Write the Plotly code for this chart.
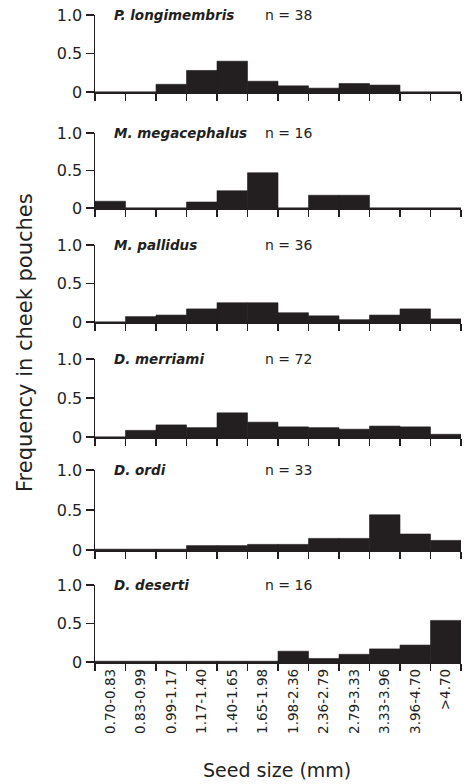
import plotly.graph_objects as go

W, H = 466, 784

bins = ["0.70-0.83", "0.83-0.99", "0.99-1.17", "1.17-1.40", "1.40-1.65", "1.65-1.98",
        "1.98-2.36", "2.36-2.79", "2.79-3.33", "3.33-3.96", "3.96-4.70", ">4.70"]

species = ["P. longimembris", "M. megacephalus", "M. pallidus", "D. merriami", "D. ordi", "D. deserti"]
n_values = [38, 16, 36, 72, 33, 16]

longimembris = [0, 0, 0.10, 0.28, 0.40, 0.14, 0.08, 0.05, 0.11, 0.09, 0, 0]
megacephalus = [0.09, 0, 0, 0.08, 0.23, 0.47, 0, 0.17, 0.17, 0, 0, 0]
pallidus = [0, 0.07, 0.09, 0.17, 0.25, 0.25, 0.12, 0.08, 0.03, 0.09, 0.17, 0.04]
merriami = [0, 0.085, 0.155, 0.12, 0.31, 0.19, 0.13, 0.12, 0.10, 0.14, 0.13, 0.035]
ordi = [0.01, 0.01, 0.01, 0.055, 0.055, 0.07, 0.07, 0.145, 0.145, 0.44, 0.20, 0.12]
deserti = [0.01, 0.01, 0.01, 0.01, 0.01, 0.01, 0.14, 0.045, 0.10, 0.17, 0.22, 0.54]

series = [longimembris, megacephalus, pallidus, merriami, ordi, deserti]

yticks = [0, 0.5, 1.0]
ytick_text = ["0", "0.5", "1.0"]

# panel pixel extents (top = 1.0 level, bottom = 0 level)
panel_px = [(15, 92), (133, 208), (245, 322), (359, 437), (470, 550), (585, 662)]
x_px = (95, 461)

INK = "#231f20"
FONT = "DejaVu Sans"

fig = go.Figure()
layout = dict(
    width=W, height=H,
    margin=dict(l=0, r=0, t=0, b=0, autoexpand=False),
    paper_bgcolor="white", plot_bgcolor="white",
    showlegend=False, bargap=0,
    font=dict(family=FONT, color=INK),
)
annotations = []

for i, (name, vals, n) in enumerate(zip(species, series, n_values)):
    k = i + 1
    xa = "x" if k == 1 else f"x{k}"
    ya = "y" if k == 1 else f"y{k}"
    fig.add_trace(go.Bar(
        x=bins, y=vals, xaxis=xa, yaxis=ya,
        marker=dict(color=INK, line=dict(color=INK, width=0.6)),
        width=1.0,
    ))
    top, bot = panel_px[i]
    last = (k == 6)
    layout["xaxis" if k == 1 else f"xaxis{k}"] = dict(
        domain=[x_px[0] / W, x_px[1] / W],
        anchor=ya,
        type="category",
        categoryorder="array", categoryarray=bins,
        range=[-0.5, len(bins) - 0.5],
        tickson="boundaries",
        ticks="outside", ticklen=7, tickwidth=1.5, tickcolor=INK,
        showline=True, linecolor=INK, linewidth=1.5,
        showgrid=False, zeroline=False,
        showticklabels=last,
        tickangle=-90,
        tickfont=dict(family=FONT, size=13.5, color=INK),
        fixedrange=True,
    )
    layout["yaxis" if k == 1 else f"yaxis{k}"] = dict(
        domain=[1 - bot / H, 1 - top / H],
        anchor=xa,
        range=[0, 1.0],
        tickvals=yticks, ticktext=ytick_text,
        ticks="outside", ticklen=8, tickwidth=1.5, tickcolor=INK,
        showline=True, linecolor=INK, linewidth=1.5,
        showgrid=False, zeroline=False,
        tickfont=dict(family=FONT, size=16, color=INK),
        fixedrange=True,
    )
    yref_dom = ("y" if k == 1 else f"y{k}") + " domain"
    annotations.append(dict(
        text=f"<b><i>{name}</i></b>", x=112 / W, xref="paper", xanchor="left",
        y=1.0, yref=yref_dom, yanchor="middle", showarrow=False,
        font=dict(family=FONT, size=13.5, color=INK),
    ))
    annotations.append(dict(
        text=f"n = {n}", x=263 / W, xref="paper", xanchor="left",
        y=1.0, yref=yref_dom, yanchor="middle", showarrow=False,
        font=dict(family=FONT, size=14, color=INK),
    ))

annotations.append(dict(
    text="Frequency in cheek pouches", x=25 / W, xref="paper", xanchor="center",
    y=1 - 343 / H, yref="paper", yanchor="middle", textangle=-90, showarrow=False,
    font=dict(family=FONT, size=21, color=INK),
))
annotations.append(dict(
    text="Seed size (mm)", x=277 / W, xref="paper", xanchor="center",
    y=1 - 770 / H, yref="paper", yanchor="middle", showarrow=False,
    font=dict(family=FONT, size=19, color=INK),
))

layout["annotations"] = annotations
fig.update_layout(**layout)
fig.write_html(
    "out.html",
    config={"displayModeBar": False, "staticPlot": True},
    post_script="document.body.style.margin='0';document.body.style.overflow='hidden';",
)
